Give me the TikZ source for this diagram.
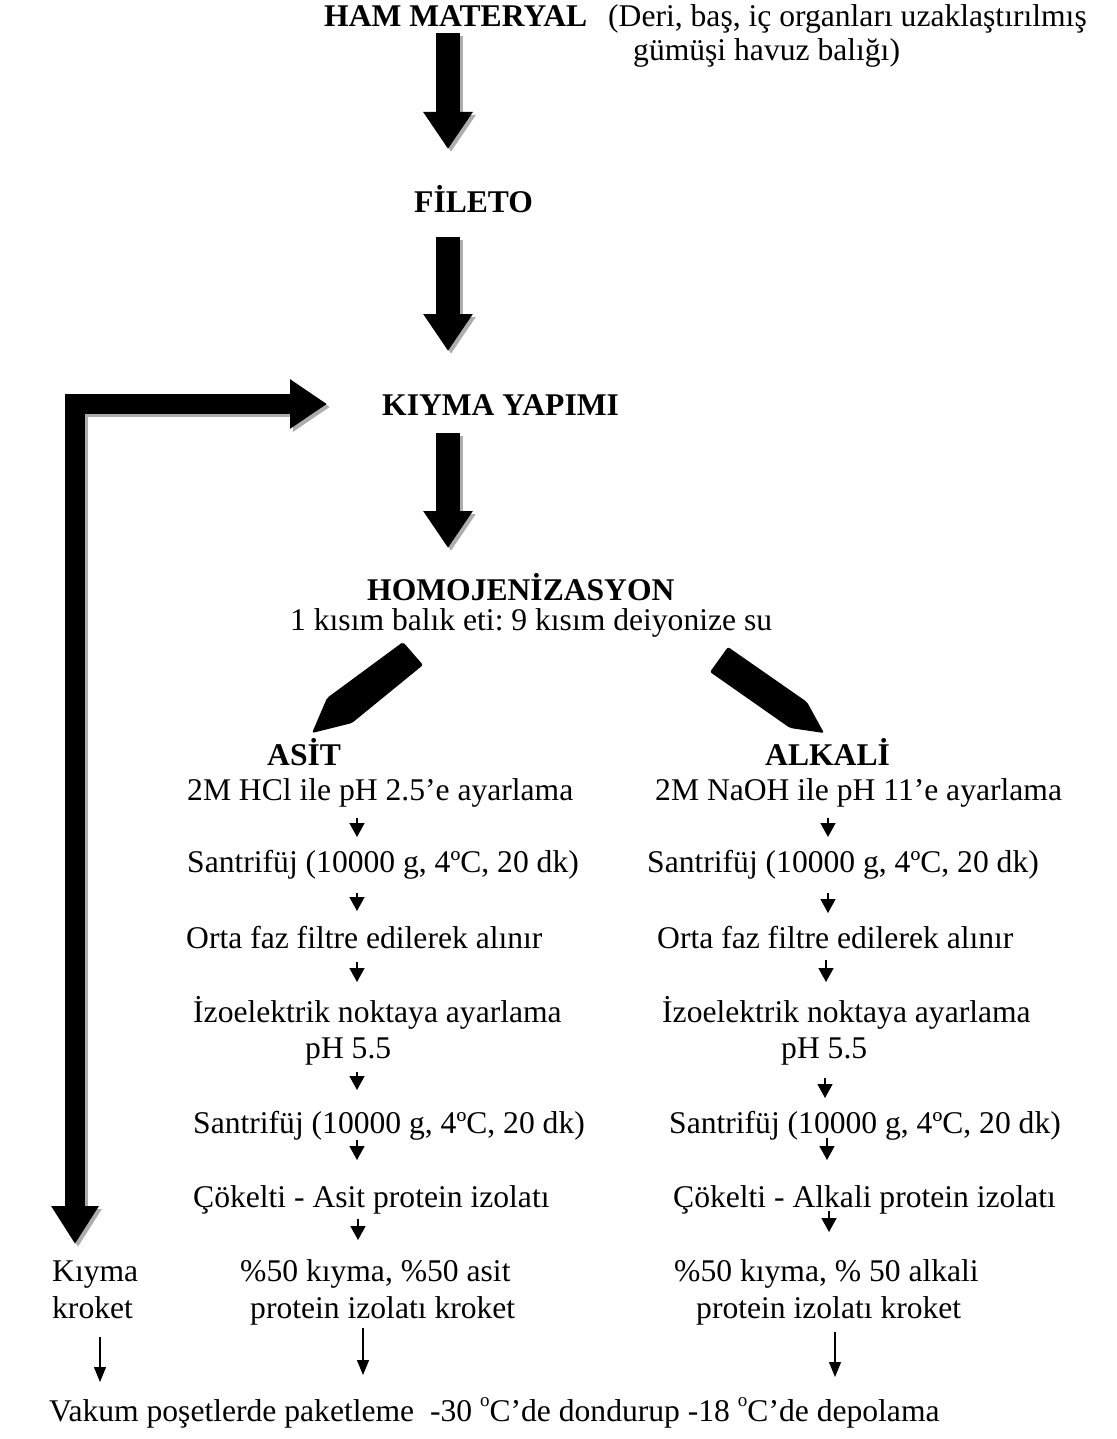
\documentclass[tikz,border=0pt]{standalone}
\usepackage{fontspec}
\setmainfont{Liberation Serif}
\usetikzlibrary{arrows.meta}
\definecolor{shadowgray}{gray}{0.68}
\newcommand\supo{\raisebox{0.47em}{\fontsize{19bp}{19bp}\selectfont o}}
\frenchspacing
\begin{document}
\begin{tikzpicture}[x=1bp,y=-1bp,
  txt/.style={anchor=base west, inner sep=0pt, font=\fontsize{31.6bp}{36bp}\selectfont\frenchspacing},
  btxt/.style={anchor=base west, inner sep=0pt, font=\fontsize{31.6bp}{36bp}\selectfont\bfseries\frenchspacing},
  bigarrow/.style={line width=24bp, -{Triangle[length=37bp,width=47bp]}},
  bentarrow/.style={line width=20bp, line join=miter, {Triangle[length=37bp,width=47bp]}-{Triangle[length=38bp,width=45bp]}},
  shadowed/.style={draw=shadowgray, transform canvas={xshift=3bp,yshift=-3bp}},
  steparrow/.style={line width=1.5bp, -{Triangle[length=14bp,width=15bp]}},
  thinarrow/.style={line width=1.3bp, -{Triangle[length=15bp,width=12bp]}},
  pencil/.style={fill=black, rounded corners=2bp}]
\useasboundingbox (0,0) rectangle (1116,1439);
\fill[white] (0,0) rectangle (1116,1439);

% ---------- texts ----------
\node[btxt] (ham) at (324,27) {HAM MATERYAL};
\node[txt] (deri1) at (608,27) {(Deri, baş, iç organları uzaklaştırılmış};
\node[txt] (deri2) at (633,61) {gümüşi havuz balığı)};
\node[btxt] (filet) at (414,213) {FİLETO};
\node[btxt] (kiyma) at (382,415) {KIYMA YAPIMI};
\node[btxt] (homo) at (367,600) {HOMOJENİZASYON};
\node[txt] (oran) at (290,630) {1 kısım balık eti: 9 kısım deiyonize su};

\node[btxt] (asit) at (267,765) {ASİT};
\node[btxt] (alk) at (765,765) {ALKALİ};

\node[txt] (a1) at (187,800) {2M HCl ile pH 2.5’e ayarlama};
\node[txt] (a2) at (187,872) {Santrifüj (10000 g, 4ºC, 20 dk)};
\node[txt] (a3) at (186,948) {Orta faz filtre edilerek alınır};
\node[txt] (a4) at (193,1022) {İzoelektrik noktaya ayarlama};
\node[txt] (a4b) at (305,1058) {pH 5.5};
\node[txt] (a5) at (193,1133) {Santrifüj (10000 g, 4ºC, 20 dk)};
\node[txt] (a6) at (193,1207) {Çökelti - Asit protein izolatı};
\node[txt] (a7) at (240,1281) {\%50 kıyma, \%50 asit};
\node[txt] (a7b) at (250,1318) {protein izolatı kroket};

\node[txt] (b1) at (655,800) {2M NaOH ile pH 11’e ayarlama};
\node[txt] (b2) at (647,872) {Santrifüj (10000 g, 4ºC, 20 dk)};
\node[txt] (b3) at (657,948) {Orta faz filtre edilerek alınır};
\node[txt] (b4) at (662,1022) {İzoelektrik noktaya ayarlama};
\node[txt] (b4b) at (781,1058) {pH 5.5};
\node[txt] (b5) at (669,1133) {Santrifüj (10000 g, 4ºC, 20 dk)};
\node[txt] (b6) at (673,1207) {Çökelti - Alkali protein izolatı};
\node[txt] (b7) at (674,1281) {\%50 kıyma, \% 50 alkali};
\node[txt] (b7b) at (696,1318) {protein izolatı kroket};

\node[txt] (k1) at (52,1281) {Kıyma};
\node[txt] (k1b) at (52,1318) {kroket};

\node[txt] (vakum) at (49,1421) {Vakum poşetlerde paketleme\ \ -30 \supo C’de dondurup -18 \supo C’de depolama};

% ---------- big block arrows ----------
\coordinate (t1s) at (448,33);  \coordinate (t1e) at (448,149);
\coordinate (t2s) at (448,237); \coordinate (t2e) at (448,351);
\coordinate (t3s) at (448,433); \coordinate (t3e) at (448,548);
\foreach \s/\e in {t1s/t1e,t2s/t2e,t3s/t3e}{
  \draw[bigarrow, shadowed] (\s) -- (\e);
  \draw[bigarrow] (\s) -- (\e);
}

% bent arrow: Kıyma yapımı <-> Kıyma kroket
\coordinate (bR) at (327,404);
\coordinate (bC) at (75,404);
\coordinate (bB) at (75,1244);
\draw[bentarrow, shadowed] (bR) -- (bC) -- (bB);
\draw[bentarrow] (bR) -- (bC) -- (bB);

% ---------- pencil arrows ----------
\fill[pencil] (403,642) -- (423,665) -- (352,723) -- (312,733) -- (327,698) -- cycle;
\fill[pencil] (728,647) -- (710,672) -- (790,728) -- (824,733) -- (807,702) -- cycle;

% ---------- small step arrows ----------
\foreach \x/\ya/\yb [count=\i] in {
  357/818/837, 357/893/911, 357/962/982, 357/1072/1090, 357/1140/1160, 358/1219/1240,
  828/818/837, 828/893/913, 826/960/982, 825/1078/1098, 827/1138/1160, 829/1211/1232}{
  \coordinate (sa\i) at (\x,\ya);
  \coordinate (sb\i) at (\x,\yb);
  \draw[steparrow] (sa\i) -- (sb\i);
}

% ---------- thin arrows to packaging ----------
\coordinate (p1s) at (100,1337); \coordinate (p1e) at (100,1382);
\coordinate (p2s) at (363,1328); \coordinate (p2e) at (363,1375);
\coordinate (p3s) at (835,1332); \coordinate (p3e) at (835,1377);
\draw[thinarrow] (p1s) -- (p1e);
\draw[thinarrow] (p2s) -- (p2e);
\draw[thinarrow] (p3s) -- (p3e);
\end{tikzpicture}
\end{document}
